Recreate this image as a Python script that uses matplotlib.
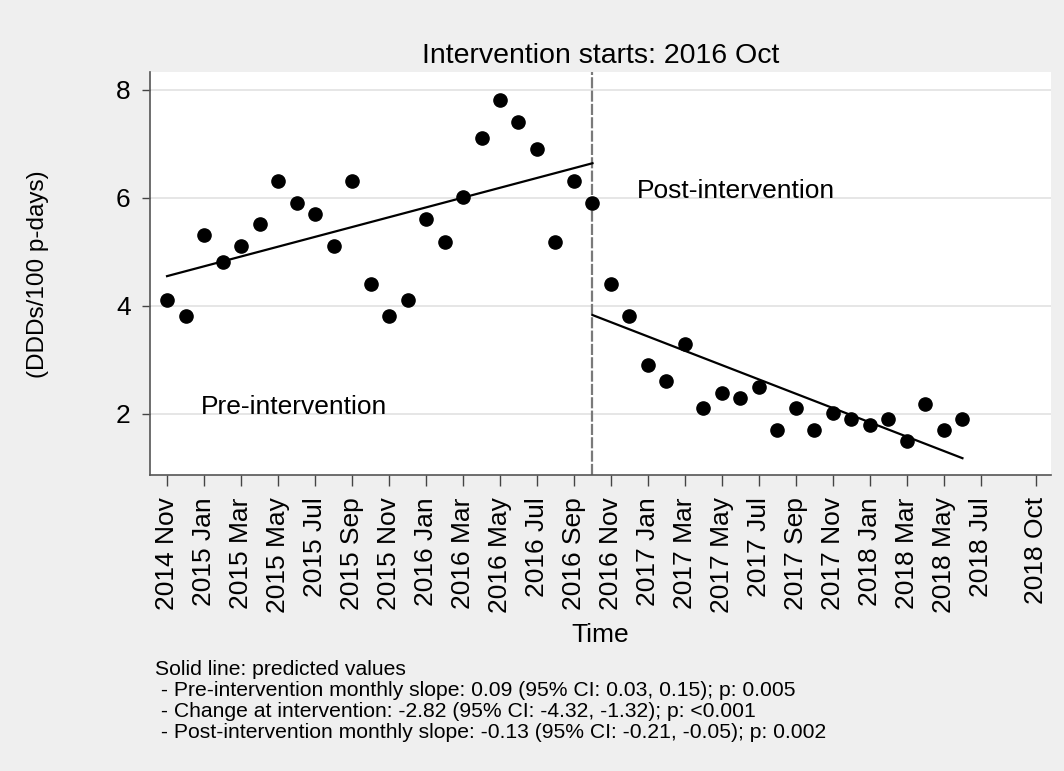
import matplotlib
matplotlib.use('Agg')

import numpy as np
import matplotlib.pyplot as plt

plt.rcParams['font.family'] = ['Liberation Sans', 'DejaVu Sans']

# ========== 数据 ==========
# month index 0 = 2014 Nov
months = np.arange(44)
ddd = [4.10, 3.81, 5.31, 4.81, 5.10, 5.51, 6.32, 5.90, 5.70, 5.10, 6.32, 4.41,
       3.81, 4.10, 5.61, 5.19, 6.01, 7.11, 7.81, 7.41, 6.90, 5.19, 6.32, 5.90,
       4.41, 3.81, 2.91, 2.60, 3.30, 2.10, 2.39, 2.30, 2.49, 1.70, 2.10, 1.70,
       2.01, 1.90, 1.80, 1.90, 1.50, 2.19, 1.70, 1.90]

# predicted values (segment end points)
pre_x = [0, 23]
pre_fit = [4.55, 6.64]
post_x = [23, 43]
post_fit = [3.83, 1.18]

intervention = 23

tick_pos = list(range(0, 45, 2)) + [47]
tick_labels = ['2014 Nov', '2015 Jan', '2015 Mar', '2015 May', '2015 Jul', '2015 Sep',
               '2015 Nov', '2016 Jan', '2016 Mar', '2016 May', '2016 Jul', '2016 Sep',
               '2016 Nov', '2017 Jan', '2017 Mar', '2017 May', '2017 Jul', '2017 Sep',
               '2017 Nov', '2018 Jan', '2018 Mar', '2018 May', '2018 Jul', '2018 Oct']

footnote = ['Solid line: predicted values',
            ' - Pre-intervention monthly slope: 0.09 (95% CI: 0.03, 0.15); p: 0.005',
            ' - Change at intervention: -2.82 (95% CI: -4.32, -1.32); p: <0.001',
            ' - Post-intervention monthly slope: -0.13 (95% CI: -0.21, -0.05); p: 0.002']

# ========== 绘图 ==========
bg = '#efefef'
fig = plt.figure(figsize=(10.64, 7.71), dpi=100, facecolor=bg)
ax = fig.add_axes([0.141, 0.384, 0.847, 0.522])
ax.set_facecolor('white')

for yv in [2, 4, 6, 8]:
    ax.axhline(yv, color='#e6e6e6', lw=1.4, zorder=0)

ax.axvline(intervention, color='#7a7a7a', lw=1.6, ls=(0, (5, 1)), zorder=1)

ax.plot(months, ddd, 'o', color='black', markersize=9.5, zorder=3)
ax.plot(pre_x, pre_fit, color='black', lw=1.6, zorder=2)
ax.plot(post_x, post_fit, color='black', lw=1.6, zorder=2)

ax.text(1.84, 2.0, 'Pre-intervention', fontsize=19, ha='left', va='baseline')
ax.text(25.4, 6.0, 'Post-intervention', fontsize=19, ha='left', va='baseline')

ax.set_xlim(-0.92, 47.8)
ax.set_ylim(0.87, 8.32)
ax.set_yticks([2, 4, 6, 8])
ax.set_yticklabels(['2', '4', '6', '8'], fontsize=19)
ax.set_xticks(tick_pos)
ax.set_xticklabels(tick_labels, rotation=90, fontsize=19)
ax.tick_params(axis='y', length=6, width=1, color='#444444', pad=8)
ax.tick_params(axis='x', length=8, width=1, color='#444444', pad=8)

for s in ['top', 'right']:
    ax.spines[s].set_visible(False)
for s in ['left', 'bottom']:
    ax.spines[s].set_color('#555555')
    ax.spines[s].set_linewidth(1.2)

ax.set_title('Intervention starts: 2016 Oct', fontsize=20.5, pad=7)
ax.set_xlabel('Time', fontsize=19, labelpad=7)
ax.set_ylabel('(DDDs/100 p-days)', fontsize=17.5, labelpad=48)

y0 = 1 - 675 / 771
for i, line in enumerate(footnote):
    fig.text(155 / 1064, y0 - i * 21.1 / 771, line, fontsize=15.2,
             ha='left', va='baseline')

plt.savefig('out.png', dpi=100, facecolor=bg)
